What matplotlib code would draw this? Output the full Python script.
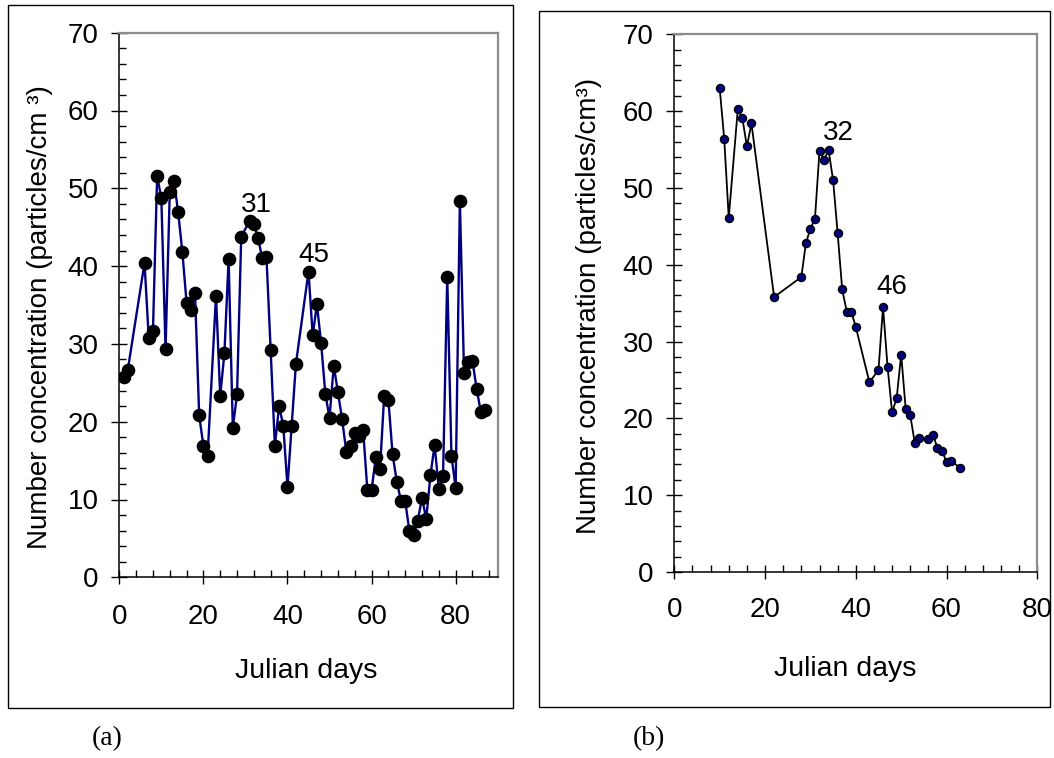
import matplotlib
matplotlib.use("Agg")
import matplotlib.pyplot as plt
from matplotlib.ticker import MultipleLocator
from matplotlib.patches import Rectangle

plt.rcParams['font.family'] = ['Liberation Sans', 'DejaVu Sans']

# ---- data: panel (a) ----
days_a = [1, 2, 6, 7, 8, 9, 10, 11, 12, 13, 14, 15, 16, 17, 18, 19, 20, 21,
          23, 24, 25, 26, 27, 28, 29, 31, 32, 33, 34, 35, 36, 37, 38, 39, 40,
          41, 42, 45, 46, 47, 48, 49, 50, 51, 52, 53, 54, 55, 56, 57, 58, 59,
          60, 61, 62, 63, 64, 65, 66, 67, 68, 69, 70, 71, 72, 73, 74, 75, 76,
          77, 78, 79, 80, 81, 82, 83, 84, 85, 86, 87]
conc_a = [25.7, 26.6, 40.4, 30.8, 31.6, 51.6, 48.7, 29.3, 49.5, 51.0, 46.9,
          41.8, 35.3, 34.4, 36.6, 20.8, 16.9, 15.6, 36.2, 23.3, 28.8, 40.9,
          19.2, 23.5, 43.8, 45.8, 45.4, 43.6, 41.0, 41.2, 29.2, 16.9, 22.0,
          19.5, 11.6, 19.5, 27.4, 39.3, 31.1, 35.1, 30.1, 23.6, 20.5, 27.2,
          23.8, 20.3, 16.1, 16.9, 18.6, 18.1, 18.9, 11.2, 11.2, 15.4, 13.9,
          23.3, 22.8, 15.8, 12.3, 9.8, 9.8, 5.95, 5.4, 7.3, 10.2, 7.5, 13.1,
          17.0, 11.3, 13.0, 38.6, 15.6, 11.5, 48.4, 26.2, 27.7, 27.8, 24.2,
          21.2, 21.5]

# ---- data: panel (b) ----
days_b = [10, 11, 12, 14, 15, 16, 17, 22, 28, 29, 30, 31, 32, 33, 34, 35, 36,
          37, 38, 39, 40, 43, 45, 46, 47, 48, 49, 50, 51, 52, 53, 54, 56, 57,
          58, 59, 60, 61, 63]
conc_b = [63.0, 56.4, 46.1, 60.3, 59.1, 55.4, 58.4, 35.8, 38.4, 42.8, 44.7,
          46.0, 54.8, 53.7, 54.9, 51.0, 44.1, 36.8, 33.9, 33.9, 31.9, 24.7,
          26.3, 34.5, 26.7, 20.8, 22.6, 28.3, 21.2, 20.4, 16.8, 17.4, 17.3,
          17.9, 16.1, 15.8, 14.3, 14.4, 13.6]

peak_labels_a = [("31", 32.7, 47.9), ("45", 46.2, 41.4)]
peak_labels_b = [("32", 36.1, 57.1), ("46", 48.0, 37.1)]

W, H = 1054, 758
fig = plt.figure(figsize=(W / 100, H / 100), dpi=100)
fig.patch.set_facecolor('white')

def px_axes(x0, x1, ytop, ybot):
    return fig.add_axes([x0 / W, 1 - ybot / H, (x1 - x0) / W, (ybot - ytop) / H])

ax_a = px_axes(119.3, 497.7, 32.7, 577.3)
ax_b = px_axes(674.3, 1037.3, 34.3, 572.0)

def style(ax, xmax, xpad):
    ax.set_xlim(0, xmax)
    ax.set_ylim(0, 70)
    ax.xaxis.set_major_locator(MultipleLocator(20))
    ax.xaxis.set_minor_locator(MultipleLocator(4))
    ax.yaxis.set_major_locator(MultipleLocator(10))
    ax.yaxis.set_minor_locator(MultipleLocator(2))
    for s in ['left', 'bottom']:
        ax.spines[s].set_color('black')
        ax.spines[s].set_linewidth(1.1)
    for s in ['top', 'right']:
        ax.spines[s].set_color('#8c8c8c')
        ax.spines[s].set_linewidth(1.6)
    ax.tick_params(axis='both', which='both', top=False, right=False,
                   labelsize=20, colors='black')
    ax.tick_params(axis='y', which='major', direction='inout', length=12,
                   width=1.0, pad=9)
    ax.tick_params(axis='x', which='major', direction='inout', length=10.5,
                   width=1.0, pad=xpad)
    ax.tick_params(axis='both', which='minor', direction='in', length=5,
                   width=1.0)

style(ax_a, 90, 14)
style(ax_b, 80, 13)

ax_a.plot(days_a, conc_a, color='#000080', linewidth=1.7, marker='o',
          markersize=8.8, markerfacecolor='black', markeredgecolor='black',
          zorder=3)
ax_b.plot(days_b, conc_b, color='black', linewidth=1.3, marker='o',
          markersize=5.8, markerfacecolor='#000080', markeredgecolor='black',
          markeredgewidth=1.0, zorder=3)

for txt, x, y in peak_labels_a:
    ax_a.text(x, y, txt, fontsize=20, ha='center', va='center')
for txt, x, y in peak_labels_b:
    ax_b.text(x, y, txt, fontsize=20, ha='center', va='center')

fig.text(40 / W, 1 - 317 / H, "Number concentration (particles/cm \u00b3)",
         rotation=90, ha='center', va='center', fontsize=20)
fig.text(589 / W, 1 - 306 / H, "Number concentration (particles/cm\u00b3)",
         rotation=90, ha='center', va='center', fontsize=20)
fig.text(306 / W, 1 - 670.5 / H, "Julian days", ha='center', va='center',
         fontsize=20.5)
fig.text(845 / W, 1 - 669 / H, "Julian days", ha='center', va='center',
         fontsize=20.5)
fig.text(107 / W, 1 - 739 / H, "(a)", ha='center', va='center', fontsize=20,
         family=['Liberation Serif', 'DejaVu Serif'])
fig.text(649 / W, 1 - 739 / H, "(b)", ha='center', va='center', fontsize=20,
         family=['Liberation Serif', 'DejaVu Serif'])

fig.add_artist(Rectangle((8.3 / W, 1 - 708 / H), 505 / W, 703 / H,
                         transform=fig.transFigure, fill=False,
                         edgecolor='black', linewidth=1.0))
fig.add_artist(Rectangle((539 / W, 1 - 706.8 / H), 511 / W, 696.1 / H,
                         transform=fig.transFigure, fill=False,
                         edgecolor='black', linewidth=1.0))

fig.savefig("out.png", dpi=100)
